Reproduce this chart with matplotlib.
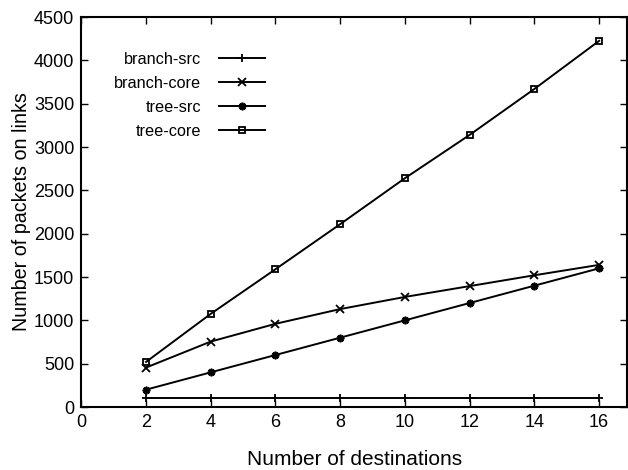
import matplotlib.pyplot as plt

plt.rcParams['font.family'] = ['Liberation Sans', 'DejaVu Sans']

# Data
destinations = [2, 4, 6, 8, 10, 12, 14, 16]
branch_src = [100, 100, 100, 100, 100, 100, 100, 100]
branch_core = [455, 755, 960, 1130, 1270, 1395, 1520, 1640]
tree_src = [200, 400, 600, 800, 1000, 1200, 1400, 1600]
tree_core = [520, 1075, 1590, 2110, 2640, 3140, 3670, 4225]

fig = plt.figure(figsize=(6.28, 4.70), dpi=100)
ax = fig.add_axes([81.3 / 628, 63 / 470, 546 / 628, 390 / 470])

style = dict(color='black', linewidth=1.4, markersize=5.5, markeredgewidth=1.3)
ax.plot(destinations, branch_src, marker='+', label='branch-src', **style)
ax.plot(destinations, branch_core, marker='x', label='branch-core', **style)
ax.plot(destinations, tree_src, marker=(8, 2, 0), label='tree-src', **style)
ax.plot(destinations, tree_core, marker='s', markerfacecolor='none',
        label='tree-core', color='black', linewidth=1.4, markersize=5,
        markeredgewidth=1.3)

ax.set_xlim(0, 16.87)
ax.set_ylim(0, 4500)
ax.set_xticks(range(0, 17, 2))
ax.set_yticks(range(0, 4501, 500))
ax.tick_params(direction='in', top=True, right=True, length=5, width=1,
               labelsize=13, pad=5)
for s in ax.spines.values():
    s.set_linewidth(1.5)

ax.set_xlabel('Number of destinations', fontsize=15, labelpad=14)
ax.set_ylabel('Number of packets on links', fontsize=14.2, labelpad=2)

ax.legend(loc='upper right', bbox_to_anchor=(0.336, 0.91), frameon=False,
          markerfirst=False, fontsize=11.7, handlelength=2.8, handletextpad=1.1,
          labelspacing=0.55, borderpad=0, borderaxespad=0)

fig.savefig('out.png', dpi=100)
